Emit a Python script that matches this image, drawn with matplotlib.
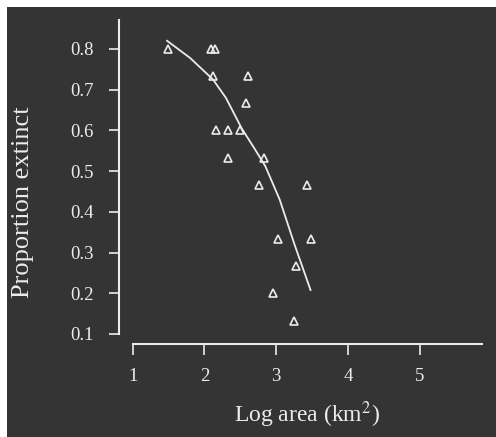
import numpy as np
import matplotlib
matplotlib.use('Agg')
import matplotlib.pyplot as plt
from matplotlib.patches import Rectangle

# Datos
log_area = [1.50, 2.09, 2.15, 2.12, 2.61, 2.58, 2.16, 2.33, 2.50,
            2.33, 2.83, 2.76, 3.43, 3.03, 3.49, 3.28, 2.96, 3.25]
prop_extinct = [0.800, 0.800, 0.800, 0.733, 0.733, 0.667, 0.600, 0.600, 0.600,
                0.533, 0.533, 0.467, 0.467, 0.333, 0.333, 0.267, 0.200, 0.133]

# Curva ajustada (puntos leidos sobre la linea)
curve_x = [1.48, 1.80, 2.12, 2.30, 2.52, 2.70, 2.85, 3.05, 3.26, 3.48]
curve_y = [0.820, 0.778, 0.725, 0.680, 0.605, 0.555, 0.512, 0.430, 0.318, 0.208]

x_ticks = [1, 2, 3, 4, 5]
y_ticks = [0.1, 0.2, 0.3, 0.4, 0.5, 0.6, 0.7, 0.8]

bg = '#343434'
fg = '#ececec'
serif = ['Liberation Serif', 'DejaVu Serif']

fig = plt.figure(figsize=(4.96, 4.37), dpi=100, facecolor=bg)
# borde blanco del escaneo (arriba e izquierda)
fig.patches.append(Rectangle((0, 1 - 7 / 437), 1, 7 / 437, transform=fig.transFigure,
                             facecolor='white', edgecolor='none'))
fig.patches.append(Rectangle((0, 0), 7 / 496, 1, transform=fig.transFigure,
                             facecolor='white', edgecolor='none'))

ax = fig.add_axes([0.2399, 0.2128, 0.7319, 0.7414])
ax.set_zorder(3)
ax.set_facecolor('none')
ax.set_xlim(0.81, 5.87)
ax.set_ylim(0.0754, 0.871)

ax.plot(curve_x, curve_y, color=fg, lw=1.3)
ax.plot(log_area, prop_extinct, linestyle='none', marker='^', markersize=6.3,
        markerfacecolor='none', markeredgecolor=fg, markeredgewidth=1.2)

for s in ['top', 'right']:
    ax.spines[s].set_visible(False)
ax.spines['left'].set_bounds(0.1, 0.871)
ax.spines['bottom'].set_bounds(1, 5.87)
for s in ['left', 'bottom']:
    ax.spines[s].set_color(fg)
    ax.spines[s].set_linewidth(1.5)

ax.set_xticks(x_ticks)
ax.set_xticklabels([str(t) for t in x_ticks], family=serif, fontsize=13.5, color=fg)
ax.set_yticks(y_ticks)
ax.set_yticklabels([f'{t:.1f}' for t in y_ticks], family=serif, fontsize=13.5, color=fg)
ax.tick_params(axis='x', direction='out', length=8, width=1.2, color=fg, pad=9)
ax.tick_params(axis='y', direction='out', length=7, width=1.2, color=fg, pad=11)

fig.text(23 / 496, 1 - 202 / 437, 'Proportion extinct', rotation=90, ha='center', va='center',
         family=serif, fontsize=19, color=fg)
fig.text(307 / 496, 1 - 415 / 437, 'Log area (km$^2$)', ha='center', va='center',
         family=serif, fontsize=17, color=fg, math_fontfamily='stix')

fig.savefig('out.png', dpi=100, facecolor=fig.get_facecolor())
